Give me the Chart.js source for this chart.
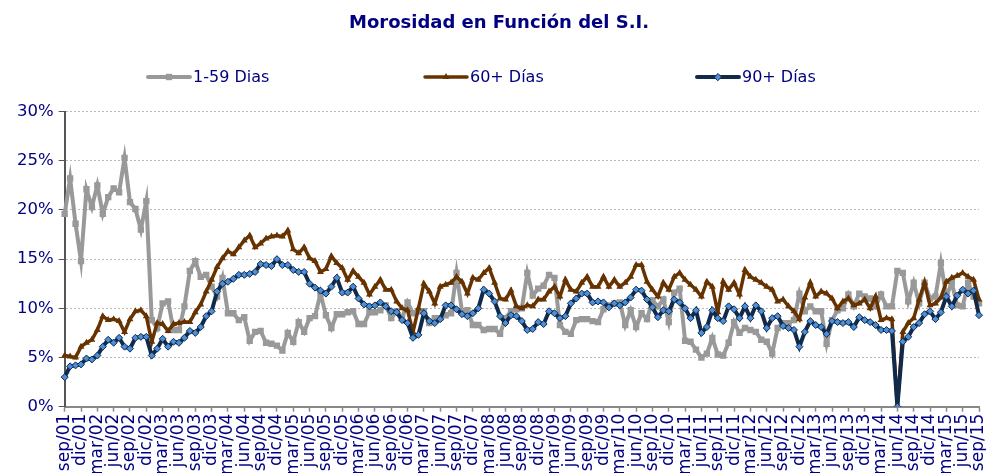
<!DOCTYPE html>
<html>
<head>
<meta charset="utf-8">
<script src="https://cdn.jsdelivr.net/npm/chart.js@4/dist/chart.umd.min.js"></script>
<style>
  html, body { margin: 0; padding: 0; background: #fff; overflow: hidden; }
  #wrap { position: relative; width: 986px; height: 490px; }
</style>
</head>
<body>
<div id="wrap"><canvas id="moraChart"></canvas></div>
<script>
// meses sep/01 .. sep/15
const monthNames = ['ene', 'feb', 'mar', 'abr', 'may', 'jun', 'jul', 'ago', 'sep', 'oct', 'nov', 'dic'];
const months = [];
for (let k = 0; k < 169; k++) {
    const m = (8 + k) % 12;
    const y = 1 + Math.floor((8 + k) / 12);
    months.push(monthNames[m] + '/' + String(y).padStart(2, '0'));
}

const yTicks = [0, 5, 10, 15, 20, 25, 30];

// 1-59 Dias (%)
const dias1a59 = [
    19.6, 23.2, 18.6, 14.8, 22.1, 20.3, 22.5, 19.6, 21.3, 22.2, 21.8, 25.3, 20.8, 20.1, 18.0, 20.9,
    8.8, 8.0, 10.5, 10.7, 7.8, 7.8, 10.2, 13.8, 14.8, 13.2, 13.4, 12.2, 11.2, 13.1, 9.5, 9.5,
    8.8, 9.1, 6.7, 7.6, 7.7, 6.5, 6.4, 6.2, 5.7, 7.5, 6.6, 8.6, 7.6, 9.0, 9.2, 11.5,
    9.3, 8.0, 9.4, 9.4, 9.6, 9.7, 8.4, 8.4, 9.6, 9.6, 9.8, 10.3, 9.0, 9.7, 9.0, 10.6,
    9.5, 9.7, 9.7, 8.5, 9.0, 9.0, 9.3, 9.5, 13.6, 9.7, 9.8, 8.3, 8.3, 7.8, 7.9, 7.9,
    7.4, 9.0, 9.7, 9.9, 10.0, 13.6, 11.3, 12.0, 12.3, 13.4, 13.1, 8.3, 7.6, 7.4, 8.8, 8.9,
    8.9, 8.7, 8.6, 9.9, 10.3, 10.5, 10.6, 8.3, 9.8, 8.1, 9.5, 8.9, 10.8, 10.2, 10.9, 8.6,
    11.6, 12.0, 6.7, 6.6, 5.8, 5.0, 5.4, 7.0, 5.3, 5.2, 6.5, 8.6, 7.5, 8.0, 7.8, 7.6,
    6.8, 6.6, 5.4, 8.0, 8.5, 8.5, 8.8, 11.5, 9.7, 10.2, 9.7, 9.7, 6.4, 8.8, 9.8, 10.0,
    11.4, 10.2, 11.5, 11.2, 11.0, 10.2, 11.4, 10.2, 10.2, 13.8, 13.6, 10.7, 12.6, 10.5, 12.6, 11.0,
    11.2, 14.6, 11.2, 12.6, 10.3, 10.2, 12.6, 11.2, 10.5
];

// 60+ Días (%)
const dias60 = [
    5.2, 5.1, 5.0, 6.1, 6.5, 6.8, 7.8, 9.2, 8.8, 8.9, 8.7, 7.6, 8.9, 9.7, 9.8, 9.2,
    6.6, 8.5, 8.4, 7.7, 8.4, 8.5, 8.6, 8.6, 9.6, 10.4, 11.7, 12.9, 14.2, 15.1, 15.8, 15.5,
    16.2, 16.9, 17.4, 16.2, 16.6, 17.1, 17.3, 17.4, 17.3, 17.9, 16.0, 15.6, 16.2, 15.1, 14.8, 13.7,
    14.0, 15.3, 14.6, 14.1, 12.9, 13.8, 13.2, 12.6, 11.4, 12.2, 12.9, 11.9, 11.9, 10.7, 10.0, 9.8,
    7.6, 10.0, 12.5, 11.7, 10.5, 12.2, 12.4, 12.6, 13.2, 12.7, 11.5, 13.1, 12.9, 13.6, 14.1, 12.6,
    11.0, 10.9, 11.8, 10.2, 10.0, 10.3, 10.2, 10.9, 10.9, 11.7, 12.2, 11.2, 12.9, 11.9, 11.7, 12.6,
    13.2, 12.2, 12.2, 13.2, 12.2, 12.9, 12.2, 12.6, 13.2, 14.4, 14.4, 12.7, 11.9, 11.2, 12.6, 11.9,
    13.2, 13.6, 12.9, 12.4, 11.9, 11.2, 12.7, 12.2, 9.6, 12.7, 11.9, 12.6, 11.4, 13.9, 13.2, 12.9,
    12.6, 12.2, 11.9, 10.7, 10.9, 10.2, 9.7, 8.9, 11.1, 12.6, 11.2, 11.7, 11.5, 11.0, 10.0, 10.7,
    11.0, 10.3, 10.5, 10.9, 10.0, 11.2, 8.8, 9.0, 8.9, 0, 7.6, 8.5, 9.0, 10.9, 12.6, 10.3,
    10.5, 11.1, 12.7, 13.1, 13.3, 13.6, 13.2, 12.9, 10.9
];

// 90+ Días (%)
const dias90 = [
    3.0, 4.1, 4.2, 4.3, 4.9, 4.8, 5.2, 6.1, 6.8, 6.5, 7.0, 6.1, 5.9, 7.0, 7.1, 7.1,
    5.2, 5.9, 6.9, 6.1, 6.6, 6.5, 7.0, 7.7, 7.5, 8.1, 9.2, 9.7, 11.7, 12.5, 12.7, 13.0,
    13.4, 13.4, 13.5, 13.7, 14.5, 14.4, 14.3, 15.0, 14.4, 14.4, 13.9, 13.7, 13.7, 12.5, 12.1, 11.8,
    11.5, 12.2, 13.1, 11.6, 11.6, 12.2, 11.0, 10.4, 10.2, 10.3, 10.6, 10.2, 9.7, 9.6, 8.8, 8.5,
    7.0, 7.3, 9.5, 8.7, 8.5, 8.9, 10.3, 10.3, 9.9, 9.4, 9.2, 9.5, 10.0, 11.9, 11.5, 10.7,
    9.2, 8.5, 9.3, 9.2, 8.7, 7.8, 7.9, 8.6, 8.4, 9.7, 9.5, 9.0, 9.2, 10.5, 11.0, 11.5,
    11.5, 10.6, 10.7, 10.6, 10.1, 10.5, 10.3, 10.6, 11.1, 11.9, 11.8, 10.9, 10.1, 9.1, 9.8, 9.7,
    10.9, 10.6, 10.0, 9.0, 9.8, 7.5, 8.1, 9.8, 9.0, 8.7, 10.2, 9.9, 9.0, 10.2, 9.0, 10.3,
    9.7, 8.0, 9.0, 9.2, 8.2, 8.0, 7.8, 6.1, 7.6, 8.7, 8.3, 8.1, 7.4, 8.7, 8.6, 8.5,
    8.6, 8.1, 9.1, 8.8, 8.6, 8.3, 7.8, 7.8, 7.7, 0, 6.6, 7.1, 8.1, 8.5, 9.4, 9.7,
    8.9, 9.6, 11.2, 10.2, 11.3, 11.9, 11.5, 11.8, 9.3
];

const NAVY = '#000080';
Chart.defaults.font.family = "'DejaVu Sans', Verdana, sans-serif";

// leyenda dibujada a mano, repartida como en el original
const wideLegend = {
    id: 'wideLegend',
    afterDraw(chart, args, opts) {
        const ctx = chart.ctx;
        chart.data.datasets.forEach((ds, i) => {
            const x = opts.starts[i];
            const y = opts.y;
            ctx.save();
            ctx.strokeStyle = ds.borderColor;
            ctx.lineWidth = ds.borderWidth;
            ctx.lineCap = 'round';
            ctx.beginPath();
            ctx.moveTo(x, y);
            ctx.lineTo(x + opts.lineLen, y);
            ctx.stroke();
            ctx.fillStyle = ds.pointBackgroundColor;
            ctx.strokeStyle = ds.pointBorderColor;
            ctx.lineWidth = ds.pointBorderWidth;
            Chart.helpers.drawPoint(ctx, {
                pointStyle: ds.pointStyle,
                radius: ds.pointRadius,
                borderWidth: ds.pointBorderWidth,
                rotation: 0
            }, x + opts.lineLen / 2, y);
            ctx.fillStyle = NAVY;
            ctx.font = opts.font;
            ctx.textBaseline = 'middle';
            ctx.textAlign = 'left';
            ctx.fillText(ds.label, x + opts.lineLen + 3, y + 1);
            ctx.restore();
        });
    }
};

const ctx = document.getElementById('moraChart').getContext('2d');
const chart = new Chart(ctx, {
    type: 'line',
    data: {
        labels: months,
        datasets: [{
            label: '1-59 Dias',
            data: dias1a59,
            borderColor: '#999999',
            borderWidth: 4,
            pointStyle: 'rect',
            pointRadius: 4.5,
            pointBackgroundColor: '#999999',
            pointBorderColor: '#999999',
            pointBorderWidth: 0,
            order: 3
        }, {
            label: '60+ Días',
            data: dias60,
            borderColor: '#663300',
            borderWidth: 3.5,
            pointStyle: 'triangle',
            pointRadius: 4,
            pointBackgroundColor: '#663300',
            pointBorderColor: '#663300',
            pointBorderWidth: 0,
            order: 2
        }, {
            label: '90+ Días',
            data: dias90,
            borderColor: '#112a4a',
            borderWidth: 4,
            pointStyle: 'rectRot',
            pointRadius: 3.5,
            pointBackgroundColor: '#4a8fd8',
            pointBorderColor: '#112a4a',
            pointBorderWidth: 1,
            order: 1
        }]
    },
    options: {
        animation: false,
        responsive: true,
        maintainAspectRatio: false,
        layout: {
            padding: { left: 12, right: 0, top: 0, bottom: 13 }
        },
        elements: {
            line: { tension: 0 }
        },
        plugins: {
            legend: { display: false },
            tooltip: { enabled: false },
            title: {
                display: true,
                text: 'Morosidad en Función del S.I.',
                color: NAVY,
                font: { size: 18, weight: 'bold' },
                padding: { top: 13, bottom: 77 }
            },
            wideLegend: {
                starts: [148, 425, 697],
                y: 77,
                lineLen: 42,
                font: "16px 'DejaVu Sans', Verdana, sans-serif"
            }
        },
        scales: {
            x: {
                offset: false,
                afterFit: (scale) => {
                    // el último rótulo vertical no necesita tanto margen
                    scale.paddingRight = 7;
                },
                grid: {
                    drawOnChartArea: false,
                    drawTicks: true,
                    tickLength: 5,
                    tickWidth: 1.5,
                    tickColor: (c) => (c.index % 3 === 0 ? '#888888' : 'rgba(0,0,0,0)')
                },
                border: { color: '#888888', width: 2 },
                ticks: {
                    autoSkip: false,
                    minRotation: 90,
                    maxRotation: 90,
                    padding: 2,
                    color: NAVY,
                    font: { size: 17 },
                    callback: function (val, idx) {
                        return idx % 3 === 0 ? this.getLabelForValue(val) : '';
                    }
                }
            },
            y: {
                min: 0,
                max: 30,
                afterBuildTicks: (scale) => {
                    scale.ticks = yTicks.map(v => ({ value: v }));
                },
                grid: {
                    color: '#b8b8b8',
                    lineWidth: 1,
                    drawTicks: true,
                    tickLength: 6,
                    tickColor: '#555555',
                    tickBorderDash: []
                },
                border: { color: '#555555', width: 2, dash: [2, 2] },
                ticks: {
                    padding: 5,
                    color: NAVY,
                    font: { size: 16.5 },
                    callback: (v) => v + '%'
                }
            }
        }
    },
    plugins: [wideLegend]
});
</script>
</body>
</html>
